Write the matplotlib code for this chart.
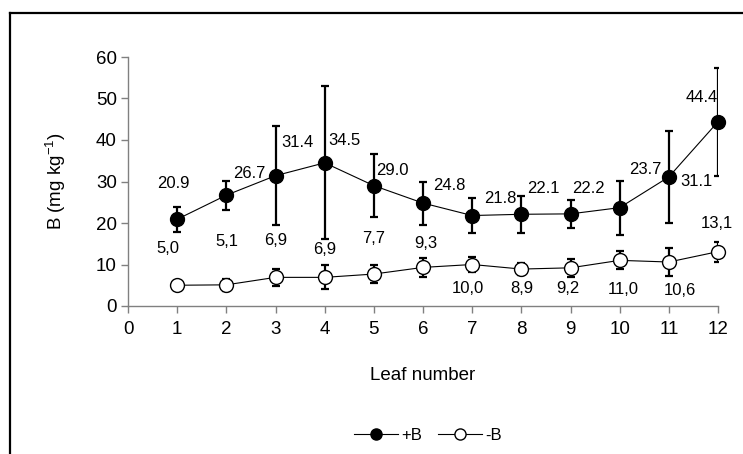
import numpy as np
import matplotlib
matplotlib.use("Agg")
import matplotlib.pyplot as plt
from matplotlib.lines import Line2D

plt.rcParams['font.family'] = ['Liberation Sans', 'DejaVu Sans']
plt.rcParams['mathtext.default'] = 'regular'

leaf = [1, 2, 3, 4, 5, 6, 7, 8, 9, 10, 11, 12]
plus_b = [20.9, 26.7, 31.4, 34.5, 29.0, 24.8, 21.8, 22.1, 22.2, 23.7, 31.1, 44.4]
plus_b_err = [3.0, 3.5, 12.0, 18.4, 7.6, 5.2, 4.2, 4.4, 3.3, 6.5, 11.1, 13.0]
minus_b = [5.0, 5.1, 6.9, 6.9, 7.7, 9.3, 10.0, 8.9, 9.2, 11.0, 10.6, 13.1]
minus_b_err = [1.0, 1.5, 2.0, 2.9, 2.1, 2.2, 1.8, 1.5, 2.1, 2.2, 3.4, 2.4]

plus_labels = ['20.9', '26.7', '31.4', '34.5', '29.0', '24.8', '21.8', '22.1', '22.2', '23.7', '31.1', '44.4']
minus_labels = ['5,0', '5,1', '6,9', '6,9', '7,7', '9,3', '10,0', '8,9', '9,2', '11,0', '10,6', '13,1']

# label offsets in pixels (dx, dy) from each point
plus_off = [(-4, 36), (23, 22), (22, 33), (20, 22), (19, 15), (26, 18),
            (28, 17), (22, 26), (18, 25), (26, 38), (28, -5), (-16, 24)]
minus_off = [(-9, 37), (1, 43), (0, 37), (0, 28), (0, 36), (3, 24),
             (-4, -24), (0, -19), (-3, -21), (4, -29), (11, -28), (-1, 28)]

fig = plt.figure(figsize=(7.43, 4.54), dpi=100)
ax = fig.add_axes([128/743, 1 - 306/454, 590/743, 249/454])

ax.errorbar(leaf, plus_b, yerr=plus_b_err, fmt='none', ecolor='black',
            elinewidth=1.6, capsize=3, capthick=1.6, zorder=2)
ax.errorbar(leaf, minus_b, yerr=minus_b_err, fmt='none', ecolor='black',
            elinewidth=1.6, capsize=3, capthick=1.6, zorder=2)
ax.plot(leaf, plus_b, color='black', lw=0.8, marker='o', ms=10,
        mfc='black', mec='black', zorder=3, clip_on=False)
ax.plot(leaf, minus_b, color='black', lw=0.8, marker='o', ms=10,
        mfc='white', mec='black', mew=1.0, zorder=3, clip_on=False)

for i in range(len(leaf)):
    ax.annotate(plus_labels[i], (leaf[i], plus_b[i]), xytext=plus_off[i],
                textcoords='offset pixels', ha='center', va='center', fontsize=12)
    ax.annotate(minus_labels[i], (leaf[i], minus_b[i]), xytext=minus_off[i],
                textcoords='offset pixels', ha='center', va='center', fontsize=12)

ax.set_xlim(0, 12)
ax.set_ylim(0, 60)
ax.set_xticks(range(0, 13))
ax.set_yticks(range(0, 61, 10))
for s in ['top', 'right']:
    ax.spines[s].set_visible(False)
for s in ['left', 'bottom']:
    ax.spines[s].set_color('#808080')
    ax.spines[s].set_linewidth(1.0)
ax.tick_params(axis='both', colors='#808080', labelcolor='black', length=5,
               width=1.0, labelsize=13.5)
ax.tick_params(axis='x', pad=6)
ax.tick_params(axis='y', pad=3)

ax.set_xlabel('Leaf number', fontsize=13.5, labelpad=21)
ax.set_ylabel('B (mg kg$^{-1}$)', fontsize=13.5, labelpad=20)

h1 = Line2D([], [], color='black', lw=0.8, marker='o', ms=8, mfc='black', mec='black')
h2 = Line2D([], [], color='black', lw=0.8, marker='o', ms=8, mfc='white', mec='black')
fig.legend([h1, h2], ['+B', '-B'], loc='center', bbox_to_anchor=(428/743, 1 - 435/454),
           ncol=2, frameon=False, fontsize=12, handlelength=2.6,
           columnspacing=1.0, handletextpad=0.2)

# outer frame (left and top edges)
fig.add_artist(Line2D([10/743, 10/743], [0, 1 - 13/454], color='black', lw=1.6,
                      transform=fig.transFigure))
fig.add_artist(Line2D([10/743, 1], [1 - 13/454, 1 - 13/454], color='black', lw=1.6,
                      transform=fig.transFigure))

plt.savefig('out.png', dpi=100)
